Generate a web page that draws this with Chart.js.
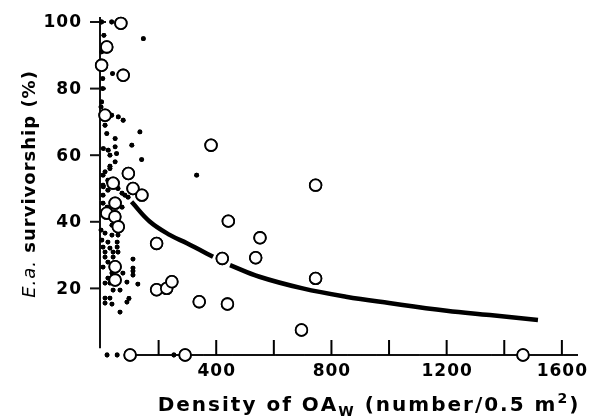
<!DOCTYPE html>
<html>
<head>
<meta charset="utf-8">
<script src="https://cdn.jsdelivr.net/npm/chart.js@4.4.1/dist/chart.umd.min.js"></script>
<style>
  html, body { margin:0; padding:0; background:#fff; }
  canvas { display:block; }
</style>
</head>
<body>
<canvas id="survChart" width="598" height="418"></canvas>
<script>
// small dots (density, survivorship %)
const dotX=[2,37,147,10,2,40,6,6,2,0,37,60,77,14,135,20,49,107,25,49,8,54,31,141,49,332,14,31,25,8,
  7,24,7,73,94,7,21,73,0,14,38,59,3,24,56,7,31,56,14,42,59,14,42,111,24,7,111,
  38,76,111,24,56,90,128,14,31,66,42,14,31,38,90,66,14,
  21,56,253,59,83,31,49,7,7,24,31,38,111,97];
const dotY=[100,100,95,96,91,84.5,83,80,76,74.5,72,71.5,70.5,69,67,66.5,65,63,61.5,62.5,62,60.5,60,58.7,58,54,55,56,52,50.5,
  51,49.5,48,48.6,47.4,45.6,44.4,44.4,37.5,36.6,36,36,34.5,33.9,33.9,32.4,32.1,32.4,30.9,30.9,30.9,29.4,29.4,28.8,27.9,26.4,26.1,
  24.6,24.6,25.2,23.1,23.1,21.9,21.3,21.6,21.6,19.5,19.5,17.1,17.1,15.3,15.9,12.9,15.6,
  0,0,0,50,48,42,40.5,43,54,52.5,56.7,39,24,17];

// open circles
const circX=[69,20,77,2,14,382,95,42,111,142,49,20,48,60,193,49,49,193,228,246,101,292,341,421,442,439,537,552,696,745,745,1465];
const circY=[99.6,92.5,84,87,72,63,54.5,51.6,50,48,45.6,42.6,41.5,38.5,33.5,26.5,22.5,19.6,20,22,0,0,16,29,40.2,15.3,29.2,35.2,7.5,51,23,0];

// fitted curve (null = break in the printed line)
const curveX=[106,170,240,300,344,389,420,448,550,700,850,1000,1200,1350,1517];
const curveY=[46,40,36,33.5,31.5,29.5,null,27,23.5,20,17.5,15.6,13.3,12,10.5];

const yTicks=[20,40,60,80,100];
const xTicks=[200,400,600,800,1000,1200,1400,1600];
const xLabels=[400,800,1200,1600];
const xMin=-3.5, xMax=1656, yMin=0, yMax=101.5;

const pts=(xs,ys)=>xs.map((x,i)=>({x:x,y:ys[i]}));

// text drawn one character at a time so the wide printed spacing can be copied
function spacedWidth(ctx, text, font, sp) {
  ctx.font=font;
  let w=0;
  for (const ch of text) w+=ctx.measureText(ch).width+sp;
  return w;
}
function drawSpaced(ctx, text, font, x, y, sp) {
  ctx.font=font;
  for (const ch of text) { ctx.fillText(ch, x, y); x+=ctx.measureText(ch).width+sp; }
  return x;
}
function drawRuns(ctx, runs, cx, cy, sp) {
  let total=0;
  runs.forEach(r=>{ total+=spacedWidth(ctx, r.text, r.font, sp); });
  let x=cx-total/2;
  ctx.textAlign="left";
  ctx.textBaseline="alphabetic";
  runs.forEach(r=>{ x=drawSpaced(ctx, r.text, r.font, x, cy+(r.dy||0), sp); });
}

const tickFont="bold 17px 'DejaVu Sans'";

function drawAxes(chart) {
  const ctx=chart.ctx, x=chart.scales.x, y=chart.scales.y;
  const left=x.getPixelForValue(xMin), right=x.getPixelForValue(xMax);
  const bottom=y.getPixelForValue(yMin), top=y.getPixelForValue(yMax);
  ctx.save();
  ctx.strokeStyle="#111";
  ctx.lineWidth=2;
  ctx.lineCap="butt";
  ctx.setLineDash([]);
  // y axis drawn as short pieces
  for (let v=yMax; v>2; v-=5) {
    ctx.beginPath();
    ctx.moveTo(left, y.getPixelForValue(v));
    ctx.lineTo(left, y.getPixelForValue(Math.max(2, v-5.2)));
    ctx.stroke();
  }
  // x axis drawn as short pieces between the ticks
  for (let v=105; v<xMax; v+=50) {
    ctx.beginPath();
    ctx.moveTo(x.getPixelForValue(v), bottom);
    ctx.lineTo(x.getPixelForValue(Math.min(xMax, v+52)), bottom);
    ctx.stroke();
  }
  yTicks.forEach(v=>{
    const py=y.getPixelForValue(v);
    ctx.beginPath();
    ctx.moveTo(left-10, py);
    ctx.lineTo(v>=80?left+6:left, py);
    ctx.stroke();
  });
  ctx.restore();

  ctx.save();
  ctx.fillStyle="#000";
  xTicks.forEach(v=>{
    const px=x.getPixelForValue(v);
    ctx.fillRect(px-1, bottom-15, 2, 15);
  });
  ctx.textAlign="left";
  ctx.textBaseline="middle";
  yTicks.forEach(v=>{
    const s=String(v), w=spacedWidth(ctx, s, tickFont, 1)-1;
    drawSpaced(ctx, s, tickFont, left-19-w, y.getPixelForValue(v)+1, 1);
  });
  ctx.textBaseline="alphabetic";
  xLabels.forEach(v=>{
    const s=String(v), w=spacedWidth(ctx, s, tickFont, 1)-1;
    drawSpaced(ctx, s, tickFont, x.getPixelForValue(v)-w/2, bottom+21, 1);
  });
  ctx.restore();
}

const axesPlugin={
  id:"axesPlugin",
  afterDraw(chart) {
    const ctx=chart.ctx;
    drawAxes(chart);
    // marks go back on top of the axis lines
    ctx.save();
    chart.getDatasetMeta(1).controller.draw();
    chart.getDatasetMeta(0).controller.draw();
    ctx.restore();

    ctx.save();
    ctx.fillStyle="#000";
    drawRuns(ctx, [
      {text:"Density of OA", font:"bold 20px 'DejaVu Sans'"},
      {text:"W", font:"bold 14px 'DejaVu Sans'", dy:5},
      {text:" (number/0.5 m", font:"bold 20px 'DejaVu Sans'"},
      {text:"2", font:"bold 14px 'DejaVu Sans'", dy:-8},
      {text:")", font:"bold 20px 'DejaVu Sans'"}
    ], 369, 411, 2);
    ctx.translate(35, 184);
    ctx.rotate(-Math.PI/2);
    drawRuns(ctx, [
      {text:"E.a.", font:"oblique 18px 'DejaVu Sans'"},
      {text:" survivorship (%)", font:"bold 18px 'DejaVu Sans'"}
    ], 0, 0, 1);
    ctx.restore();
  }
};

new Chart(document.getElementById("survChart"), {
  type:"scatter",
  data:{
    datasets:[
      {label:"circles", data:pts(circX, circY), pointStyle:"circle", pointRadius:5.8, clip:false,
        pointBorderWidth:1.8, pointBackgroundColor:"#fff", pointBorderColor:"#000"},
      {label:"dots", data:pts(dotX, dotY), pointStyle:"circle", pointRadius:2.4, clip:false,
        pointBorderWidth:0, pointBackgroundColor:"#000"},
      {label:"curve", data:pts(curveX, curveY), showLine:true, spanGaps:false, clip:false,
        borderColor:"#000", borderWidth:4.5, pointRadius:0, tension:0.4, borderCapStyle:"butt"}
    ]
  },
  options:{
    responsive:false,
    animation:false,
    layout:{padding:{left:0, top:17, right:20, bottom:0}},
    plugins:{legend:{display:false}, tooltip:{enabled:false}},
    scales:{
      x:{
        type:"linear", min:xMin, max:xMax,
        afterFit:s=>{ s.height=63; },
        grid:{display:false}, border:{display:false}, ticks:{display:false}
      },
      y:{
        type:"linear", min:yMin, max:yMax,
        afterFit:s=>{ s.width=100; },
        grid:{display:false}, border:{display:false}, ticks:{display:false}
      }
    }
  },
  plugins:[axesPlugin]
});
</script>
</body>
</html>
